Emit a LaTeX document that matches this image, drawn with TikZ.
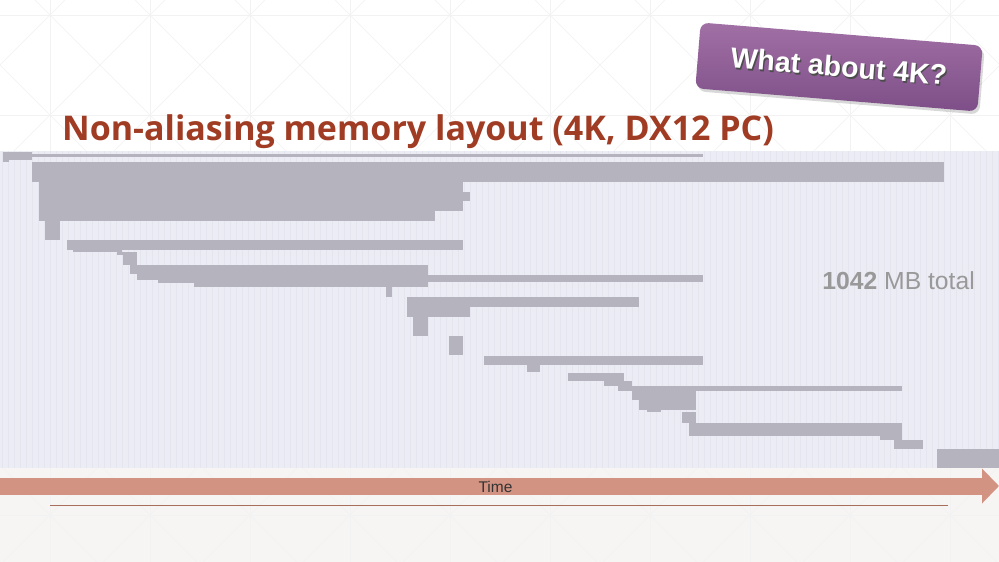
\documentclass[tikz,border=0pt]{standalone}
\usepackage{fontspec}
\setmainfont{Liberation Sans}
\newfontfamily\titlefont{Open Sans}
\usetikzlibrary{arrows.meta}
\usetikzlibrary{shadows}
\definecolor{lavender}{RGB}{236,236,245}
\definecolor{gridline}{RGB}{229,229,239}
\definecolor{memgrey}{RGB}{181,180,190}
\definecolor{rust}{RGB}{160,60,35}
\definecolor{salmon}{RGB}{211,147,130}
\definecolor{axisline}{RGB}{168,110,92}
\definecolor{plumtop}{RGB}{160,112,165}
\definecolor{plumbot}{RGB}{126,78,136}
\definecolor{floor}{RGB}{246,245,244}
\definecolor{lattice}{RGB}{242,242,242}
\newcommand{\castshadow}[1]{\makebox[0pt][l]{\hspace{1.4pt}\raisebox{-1.4pt}{\textcolor{black!70}{#1}}}#1}

\begin{document}
\begin{tikzpicture}[x=1pt,y=-1pt,
	memblock/.style={fill=memgrey},
	callout/.style={rounded corners=8pt,minimum width=283pt,minimum height=66pt,
		rotate=-4.7,top color=plumtop,bottom color=plumbot,text=white,
		drop shadow={shadow xshift=2pt,shadow yshift=-3pt,opacity=.3},
		font=\bfseries\fontsize{28.5}{30}\selectfont}]
	\useasboundingbox (0,0) rectangle (999,562);
	\fill[white] (0,0) rectangle (999,562);
	\fill[floor] (0,468) rectangle (999,562);
	
	\begin{scope}
		\clip (0,0) rectangle (999,562);
		\foreach \k in {0,...,9} \draw[lattice] (50+100*\k,0) -- ++(0,562);
		\foreach \k in {0,...,5} \draw[lattice] (0,15+100*\k) -- ++(999,0);
		\foreach \k in {-6,...,15} {
			\draw[lattice] (35+100*\k,0) -- ++(600,600);
			\draw[lattice] (65+100*\k,0) -- ++(-600,600);
		}
	\end{scope}
	
	\fill[lavender] (0,151) rectangle (999,468);
	\foreach \x in {2,8,...,998} \draw[gridline,line width=.5pt] (\x,151) -- (\x,468);
	
	\foreach \xa/\ya/\xb/\yb in {3/152/32/160, 3/160/9/162, 32/154/703/157,
		32/162/944/182, 39/182/463/192, 39/192/470/201, 39/201/463/211,
		39/211/435/221, 45/221/60/240, 67/240/463/250, 73/250/122/252,
		117/252/137/255, 123/255/137/265, 130/265/137/274, 137/265/428/280,
		158/280/428/283, 194/283/428/287, 428/275/703/282, 386/287/392/297,
		407/297/639/307, 407/307/470/317, 413/317/428/336, 449/336/463/355,
		484/356/703/365, 527/365/540/372, 568/373/624/381, 604/381/632/386,
		618/386/632/391, 632/386/902/391, 632/391/696/400, 639/400/696/410,
		647/410/661/412, 682/412/696/423, 689/423/902/436, 880/436/902/440,
		894/440/923/449, 937/449/999/468}
		\fill[memblock] (\xa,\ya) rectangle (\xb,\yb);
	
	\coordinate (tstart) at (0,486);
	\coordinate (tend) at (999,486);
	\coordinate (rulestart) at (50,505.5);
	\coordinate (ruleend) at (948,505.5);
	\draw[salmon,line width=17pt,-{Triangle[length=17pt,width=34pt]}] (tstart) -- (tend);
	\draw[axisline,line width=1.2pt] (rulestart) -- (ruleend);
	
	\node[anchor=base,inner sep=0,text=black!80,font=\fontsize{15.5}{17}\selectfont]
		(timelabel) at (495.5,492) {Time};
	\node[anchor=base west,inner sep=0,text=rust,font=\titlefont\bfseries\fontsize{34}{40}\selectfont]
		(title) at (62,140) {Non-aliasing memory layout (4K, DX12 PC)};
	\node[anchor=base east,inner sep=0,text=black!40,font=\fontsize{24.7}{26}\selectfont]
		(total) at (975,289) {\textbf{1042} MB total};
	\node[callout] (callout) at (839,67) {\castshadow{What about 4K?}};
\end{tikzpicture}
\end{document}
